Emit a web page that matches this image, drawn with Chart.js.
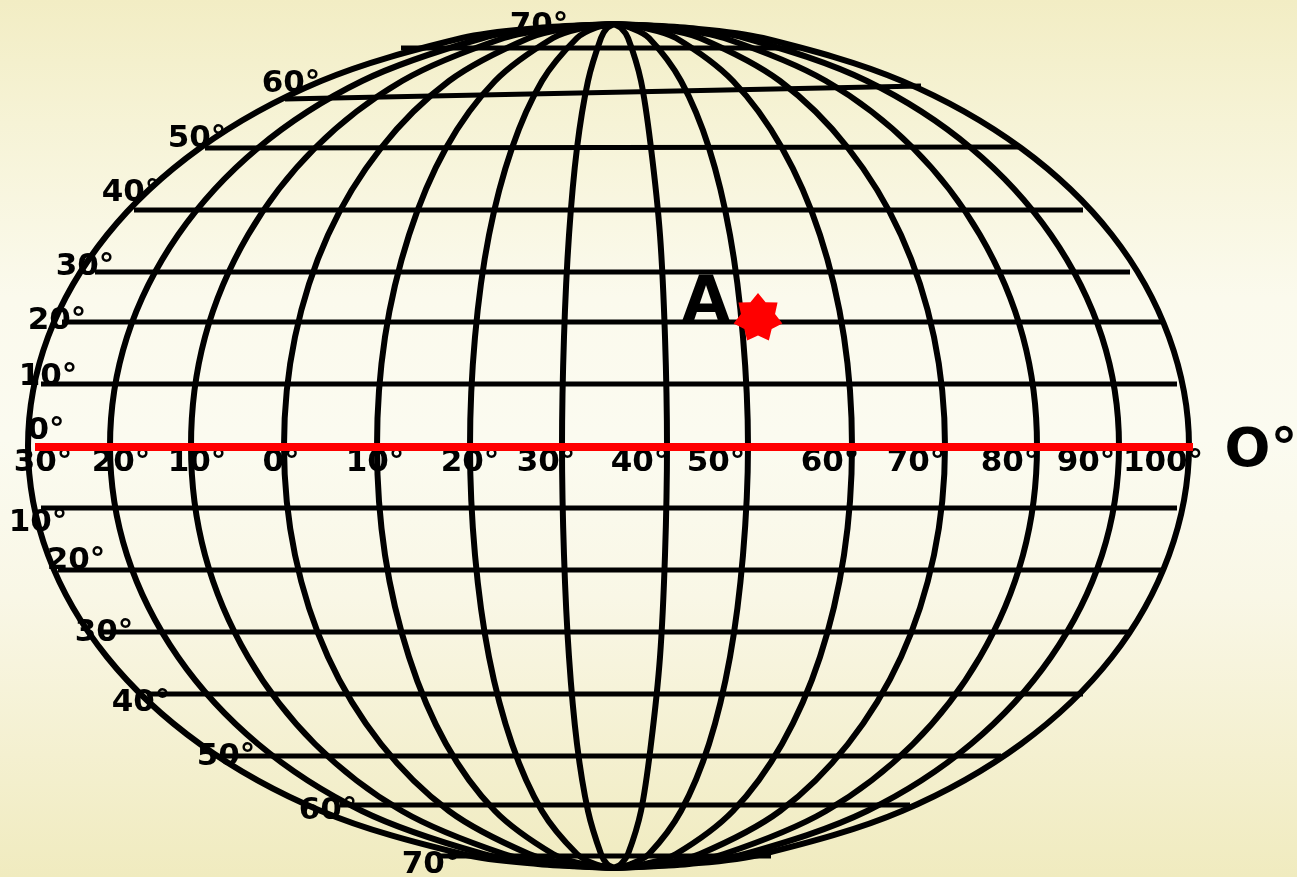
<!DOCTYPE html>
<html>
<head>
<meta charset="utf-8">
<title>Globe grid</title>
<script src="https://cdn.jsdelivr.net/npm/chart.js@4"></script>
<style>
  html, body { margin: 0; padding: 0; overflow: hidden; }
  body {
    width: 1297px; height: 877px;
    background: linear-gradient(180deg, #f2edc4 0%, #f6f3d6 14%, #fbfaed 34%, #fbfbf0 50%, #f9f7e6 68%, #f4f0d0 86%, #f0ebbf 100%);
  }
  canvas { display: block; }
</style>
</head>
<body>
<canvas id="globe" width="1297" height="877"></canvas>
<script>
// Values, same units on both axes
var rowY = [24, 28, 38, 81, 148, 235, 337, 446, 555, 657, 744, 811, 854, 864, 868];

var meridians = [
  [614, 538, 462, 321, 200, 107, 48, 28, 48, 107, 200, 321, 462, 538, 614],
  [614, 548, 483, 362, 258, 178, 127, 110, 127, 178, 258, 362, 483, 548, 614],
  [614, 559, 504, 402, 315, 248, 205, 191, 205, 248, 315, 402, 504, 559, 614],
  [614, 571, 529, 449, 381, 328, 295, 284, 295, 328, 381, 449, 529, 571, 614],
  [614, 583, 553, 495, 446, 409, 385, 377, 385, 409, 446, 495, 553, 583, 614],
  [614, 595, 577, 542, 512, 489, 475, 470, 475, 489, 512, 542, 577, 595, 614],
  [614, 607, 601, 588, 577, 569, 564, 562, 564, 569, 577, 588, 601, 607, 614],
  [614, 621, 628, 641, 651, 660, 665, 667, 665, 660, 651, 641, 628, 621, 614],
  [614, 631, 649, 681, 709, 730, 743, 748, 743, 730, 709, 681, 649, 631, 614],
  [614, 645, 676, 733, 782, 820, 844, 852, 844, 820, 782, 733, 676, 645, 614],
  [614, 657, 700, 780, 848, 901, 934, 945, 934, 901, 848, 780, 700, 657, 614],
  [614, 669, 724, 826, 913, 980, 1023, 1037, 1023, 980, 913, 826, 724, 669, 614],
  [614, 680, 745, 867, 971, 1051, 1102, 1119, 1102, 1051, 971, 867, 745, 680, 614],
  [614, 689, 763, 902, 1021, 1112, 1169, 1189, 1169, 1112, 1021, 902, 763, 689, 614]
];

// Parallels: left x, left y, right x, right y
var parallels = [
  [401, 48, 800, 48],
  [285, 99, 921, 86],
  [205, 148, 1018, 147],
  [134, 210, 1083, 210],
  [95, 272, 1130, 272],
  [62, 322, 1163, 322],
  [41, 384, 1177, 384],
  [41, 508, 1177, 508],
  [58, 570, 1163, 570],
  [100, 632, 1129, 632],
  [150, 694, 1083, 694],
  [220, 756, 1001, 756],
  [340, 805, 910, 805],
  [440, 856, 771, 856]
];

var equator = [35, 447, 1193, 447];
var pointA = [758, 318];

var latLabels = ["70°", "60°", "50°", "40°", "30°", "20°", "10°", "0°", "10°", "20°", "30°", "40°", "50°", "60°", "70°"];
var latLabelX = [539, 291, 197, 131, 85, 57, 48, 46, 38, 76, 104, 141, 226, 328, 431];
var latLabelY = [26, 84, 139, 193, 267, 321, 377, 431, 523, 561, 633, 703, 757, 811, 865];

var lonLabels = ["30°", "20°", "10°", "0°", "10°", "20°", "30°", "40°", "50°", "60°", "70°", "80°", "90°", "100°"];
var lonLabelX = [43, 121, 197, 281, 375, 470, 546, 640, 716, 830, 916, 1010, 1086, 1163];
var lonLabelY = 463;

// Seven pointed star for point A
function starImage(size) {
  var c = document.createElement("canvas");
  c.width = size;
  c.height = size;
  var g = c.getContext("2d");
  g.translate(size / 2, size / 2);
  g.beginPath();
  for (var i = 0; i < 14; i++) {
    var r = i % 2 == 0 ? size / 2 : size / 2 * 0.7;
    var a = -Math.PI / 2 + i * Math.PI / 7;
    g.lineTo(r * Math.cos(a), r * Math.sin(a));
  }
  g.closePath();
  g.fillStyle = "#ff0000";
  g.fill();
  return c;
}

var datasets = [];

// Point A goes on top of everything
datasets.push({
  data: [{ x: pointA[0], y: pointA[1] }],
  showLine: false,
  pointStyle: starImage(50),
  order: 0
});

datasets.push({
  data: [{ x: equator[0], y: equator[1] }, { x: equator[2], y: equator[3] }],
  showLine: true,
  borderColor: "#ff0000",
  borderWidth: 8,
  pointRadius: 0,
  order: 1
});

parallels.forEach(function (p) {
  datasets.push({
    data: [{ x: p[0], y: p[1] }, { x: p[2], y: p[3] }],
    showLine: true,
    borderColor: "#000000",
    borderWidth: 5,
    pointRadius: 0,
    order: 2
  });
});

meridians.forEach(function (xs) {
  datasets.push({
    data: xs.map(function (x, i) { return { x: x, y: rowY[i] }; }),
    showLine: true,
    tension: 0.33,
    borderColor: "#000000",
    borderWidth: 6,
    pointRadius: 0,
    order: 2
  });
});

// The labels sit under the lines, the big A and O° are drawn with them
var labelPlugin = {
  id: "labels",
  beforeDatasetsDraw: function (chart) {
    var ctx = chart.ctx;
    var sx = chart.scales.x;
    var sy = chart.scales.y;
    ctx.save();
    ctx.fillStyle = "#000000";
    ctx.textAlign = "center";
    ctx.textBaseline = "middle";
    ctx.font = "bold 31px 'DejaVu Sans'";
    latLabels.forEach(function (t, i) {
      ctx.fillText(t, sx.getPixelForValue(latLabelX[i]), sy.getPixelForValue(latLabelY[i]));
    });
    lonLabels.forEach(function (t, i) {
      ctx.fillText(t, sx.getPixelForValue(lonLabelX[i]), sy.getPixelForValue(lonLabelY));
    });
    ctx.font = "bold 62px 'DejaVu Sans'";
    ctx.fillText("A", sx.getPixelForValue(706), sy.getPixelForValue(304));
    ctx.font = "bold 54px 'DejaVu Sans'";
    ctx.fillText("O°", sx.getPixelForValue(1261), sy.getPixelForValue(452));
    ctx.restore();
  }
};

new Chart(document.getElementById("globe").getContext("2d"), {
  type: "scatter",
  data: { datasets: datasets },
  plugins: [labelPlugin],
  options: {
    responsive: false,
    animation: false,
    layout: { padding: 0, autoPadding: false },
    plugins: { legend: { display: false }, tooltip: { enabled: false } },
    scales: {
      x: { type: "linear", min: 0, max: 1297, display: false },
      y: { type: "linear", min: 0, max: 877, reverse: true, display: false }
    }
  }
});
</script>
</body>
</html>
